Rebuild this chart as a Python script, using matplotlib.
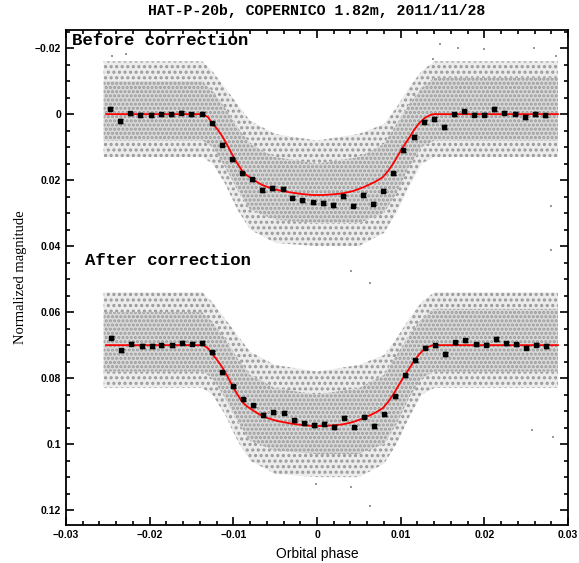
import matplotlib
matplotlib.use("Agg")
import matplotlib.pyplot as plt
from matplotlib.ticker import MultipleLocator, FixedLocator, FixedFormatter

# ---------------- data ----------------
# binned light curve, before correction
bin_phase_before = [-0.0247, -0.0235, -0.0223, -0.0211, -0.0199, -0.0187, -0.0175, -0.0162,
                    -0.0151, -0.0138, -0.0126, -0.0114, -0.0102, -0.0090, -0.0078, -0.0066,
                    -0.0054, -0.0041, -0.0030, -0.0018, -0.0005, 0.0007, 0.0019, 0.0031,
                    0.0043, 0.0055, 0.0067, 0.0079, 0.0091, 0.0103, 0.0116, 0.0128, 0.0140,
                    0.0152, 0.0164, 0.0176, 0.0188, 0.0200, 0.0212, 0.0224, 0.0237, 0.0249,
                    0.0261, 0.0273]
bin_mag_before = [-0.0017, 0.0021, -0.0003, 0.0002, 0.0002, 0.0000, 0.0000, -0.0005,
                  0.0000, -0.0001, 0.0028, 0.0092, 0.0137, 0.0179, 0.0198, 0.0230,
                  0.0224, 0.0226, 0.0253, 0.0261, 0.0267, 0.0268, 0.0276, 0.0249,
                  0.0277, 0.0245, 0.0271, 0.0232, 0.0179, 0.0110, 0.0069, 0.0024, 0.0016,
                  0.0040, 0.0000, -0.0009, 0.0002, 0.0002, -0.0016, -0.0004, -0.0001, 0.0008,
                  0.0000, 0.0004]
bin_err_before = [0.0005, 0.0005, 0.0005, 0.0007, 0.0006, 0.0005, 0.0005, 0.0005,
                  0.0005, 0.0005, 0.0005, 0.0005, 0.0005, 0.0005, 0.0005, 0.0005,
                  0.0005, 0.0005, 0.0005, 0.0005, 0.0005, 0.0006, 0.0006, 0.0005,
                  0.0005, 0.0005, 0.0005, 0.0005, 0.0005, 0.0005, 0.0005, 0.0005, 0.0006,
                  0.0006, 0.0005, 0.0005, 0.0005, 0.0005, 0.0005, 0.0005, 0.0005, 0.0006,
                  0.0006, 0.0005]

# binned light curve, after correction
bin_phase_after = [-0.0246, -0.0234, -0.0222, -0.0209, -0.0197, -0.0186, -0.0173, -0.0161,
                   -0.0149, -0.0137, -0.0125, -0.0113, -0.0101, -0.0089, -0.0076, -0.0065,
                   -0.0053, -0.0040, -0.0028, -0.0016, -0.0004, 0.0008, 0.0020, 0.0032,
                   0.0044, 0.0056, 0.0068, 0.0080, 0.0093, 0.0105, 0.0117, 0.0129, 0.0141,
                   0.0153, 0.0165, 0.0177, 0.0190, 0.0202, 0.0214, 0.0226, 0.0238, 0.0250,
                   0.0262, 0.0274]
bin_mag_after = [0.0677, 0.0716, 0.0695, 0.0702, 0.0702, 0.0700, 0.0700, 0.0693,
                 0.0696, 0.0692, 0.0722, 0.0782, 0.0825, 0.0864, 0.0882, 0.0912,
                 0.0904, 0.0905, 0.0928, 0.0937, 0.0942, 0.0939, 0.0948, 0.0920,
                 0.0949, 0.0917, 0.0945, 0.0910, 0.0855, 0.0791, 0.0746, 0.0708, 0.0701,
                 0.0726, 0.0691, 0.0685, 0.0697, 0.0699, 0.0681, 0.0694, 0.0697, 0.0708,
                 0.0699, 0.0703]
bin_err_after = [0.0005, 0.0005, 0.0005, 0.0006, 0.0006, 0.0005, 0.0005, 0.0005,
                 0.0005, 0.0005, 0.0005, 0.0005, 0.0005, 0.0005, 0.0005, 0.0005,
                 0.0005, 0.0005, 0.0005, 0.0005, 0.0005, 0.0005, 0.0007, 0.0005,
                 0.0005, 0.0005, 0.0005, 0.0005, 0.0005, 0.0005, 0.0005, 0.0005, 0.0005,
                 0.0006, 0.0005, 0.0005, 0.0005, 0.0005, 0.0005, 0.0005, 0.0005, 0.0005,
                 0.0005, 0.0005]

# transit model curve (red), before correction level; after correction is offset
model_phase = [-0.0252, -0.0136, -0.0130, -0.0126, -0.0120, -0.0114, -0.0108, -0.0102,
               -0.0096, -0.0090, -0.0084, -0.0078, -0.0072, -0.0066, -0.0060, -0.0054,
               -0.0047, -0.0041, -0.0030, -0.0018, -0.0005, 0.0007, 0.0019, 0.0031,
               0.0043, 0.0055, 0.0067, 0.0073, 0.0079, 0.0085, 0.0091, 0.0097, 0.0103,
               0.0110, 0.0116, 0.0122, 0.0128, 0.0134, 0.0139, 0.0288]
model_mag = [0.0, 0.0, 0.0010, 0.0025, 0.0043, 0.0064, 0.0090, 0.0119,
             0.0146, 0.0170, 0.0185, 0.0195, 0.0205, 0.0214, 0.0220, 0.0225,
             0.0230, 0.0233, 0.0238, 0.0242, 0.0245, 0.0245, 0.0243, 0.0240,
             0.0233, 0.0222, 0.0208, 0.0200, 0.0190, 0.0172, 0.0150, 0.0124, 0.0099,
             0.0072, 0.0048, 0.0028, 0.0013, 0.0004, 0.0, 0.0]
after_offset = 0.07

# envelope of the cloud of individual (grey) measurements
cloud_phase = [-0.0255, -0.0137, -0.0125, -0.0110, -0.0095, -0.0080, -0.0050, 0.0,
               0.0050, 0.0080, 0.0095, 0.0110, 0.0125, 0.0140, 0.0288]
cloud_outer_top = [-0.016, -0.016, -0.013, -0.008, -0.003, 0.002, 0.006, 0.008,
                   0.006, 0.003, -0.002, -0.008, -0.013, -0.016, -0.016]
cloud_core_top = [-0.010, -0.010, -0.007, -0.002, 0.004, 0.009, 0.013, 0.015,
                  0.013, 0.009, 0.003, -0.003, -0.008, -0.011, -0.011]
cloud_core_bot = [0.008, 0.008, 0.010, 0.016, 0.023, 0.029, 0.032, 0.033,
                  0.033, 0.030, 0.024, 0.016, 0.010, 0.008, 0.008]
cloud_outer_bot = [0.013, 0.013, 0.015, 0.021, 0.029, 0.035, 0.039, 0.040,
                   0.040, 0.036, 0.030, 0.022, 0.015, 0.013, 0.013]

# isolated outlying measurements
outlier_phase = [0.0147, 0.0168, 0.0200, 0.0259, 0.0286, 0.0139, -0.0245, -0.0228,
                 0.0041, 0.0063, 0.0280, 0.0280, 0.0041, 0.0063, 0.0257, 0.0282, -0.0001]
outlier_mag = [-0.0212, -0.0200, -0.0196, -0.0199, -0.0176, -0.0168, -0.0175, -0.0183,
               0.0476, 0.0513, 0.0279, 0.0412, 0.1131, 0.1188, 0.0958, 0.0978, 0.1120]

title = "HAT-P-20b, COPERNICO 1.82m, 2011/11/28"
xlabel = "Orbital phase"
ylabel = "Normalized magnitude"
label_before = "Before correction"
label_after = "After correction"
xticks = [-0.03, -0.02, -0.01, 0.0, 0.01, 0.02, 0.03]
xticklabels = ["\u22120.03", "\u22120.02", "\u22120.01", "0", "0.01", "0.02", "0.03"]
yticks = [-0.02, 0.0, 0.02, 0.04, 0.06, 0.08, 0.1, 0.12]
yticklabels = ["\u22120.02", "0", "0.02", "0.04", "0.06", "0.08", "0.1", "0.12"]

# ---------------- drawing ----------------
plt.rcParams['hatch.linewidth'] = 1.5
fig = plt.figure(figsize=(5.79, 5.63), dpi=100)
ax = fig.add_axes([0.114, 0.0675, 0.867, 0.8792])

grey = '#9a9a9a'
for off in (0.0, after_offset):
    ot = [v + off for v in cloud_outer_top]
    ct = [v + off for v in cloud_core_top]
    cb = [v + off for v in cloud_core_bot]
    ob = [v + off for v in cloud_outer_bot]
    ax.fill_between(cloud_phase, ot, ct, facecolor='#ececec', edgecolor=grey,
                    hatch='...', linewidth=0)
    ax.fill_between(cloud_phase, cb, ob, facecolor='#ececec', edgecolor=grey,
                    hatch='...', linewidth=0)
    ax.fill_between(cloud_phase, ct, cb, facecolor='#d9d9d9', edgecolor=grey,
                    hatch='....', linewidth=0)

ax.scatter(outlier_phase, outlier_mag, s=3.5, color=grey, marker='s', linewidths=0)

ax.plot(model_phase, model_mag, color='red', lw=1.3, zorder=3)
ax.plot(model_phase, [m + after_offset for m in model_mag], color='red', lw=1.3, zorder=3)

for ph, mg, er in ((bin_phase_before, bin_mag_before, bin_err_before),
                   (bin_phase_after, bin_mag_after, bin_err_after)):
    ax.errorbar(ph, mg, yerr=er, fmt='s', color='black', ms=2.6, capsize=1.8,
                elinewidth=1, capthick=1, zorder=4)

ax.set_xlim(-0.03, 0.03)
ax.set_ylim(0.1245, -0.0255)

ax.xaxis.set_major_locator(FixedLocator(xticks))
ax.xaxis.set_major_formatter(FixedFormatter(xticklabels))
ax.xaxis.set_minor_locator(MultipleLocator(0.002))
ax.yaxis.set_major_locator(FixedLocator(yticks))
ax.yaxis.set_major_formatter(FixedFormatter(yticklabels))
ax.yaxis.set_minor_locator(MultipleLocator(0.005))
ax.tick_params(which='both', direction='in', top=True, right=True, width=1.2)
ax.tick_params(which='major', length=6)
ax.tick_params(which='minor', length=3)
for lab in ax.get_xticklabels() + ax.get_yticklabels():
    lab.set_fontfamily('Liberation Sans')
    lab.set_fontweight('bold')
    lab.set_fontsize(7.5)
for sp in ax.spines.values():
    sp.set_linewidth(1.3)

ax.set_xlabel(xlabel, fontfamily='Liberation Sans', fontsize=10, labelpad=5)
ax.set_ylabel(ylabel, fontfamily='Liberation Serif', fontsize=10.5, labelpad=6)
ax.set_title(title, fontfamily='Liberation Mono', fontweight='bold', fontsize=10.7, pad=11)

ax.text(0.012, 0.978, label_before, transform=ax.transAxes, fontfamily='Liberation Mono',
        fontweight='bold', fontsize=12.5, va='center', ha='left')
ax.text(0.038, 0.534, label_after, transform=ax.transAxes, fontfamily='Liberation Mono',
        fontweight='bold', fontsize=12.5, va='center', ha='left')

fig.savefig('out.png', dpi=100)
